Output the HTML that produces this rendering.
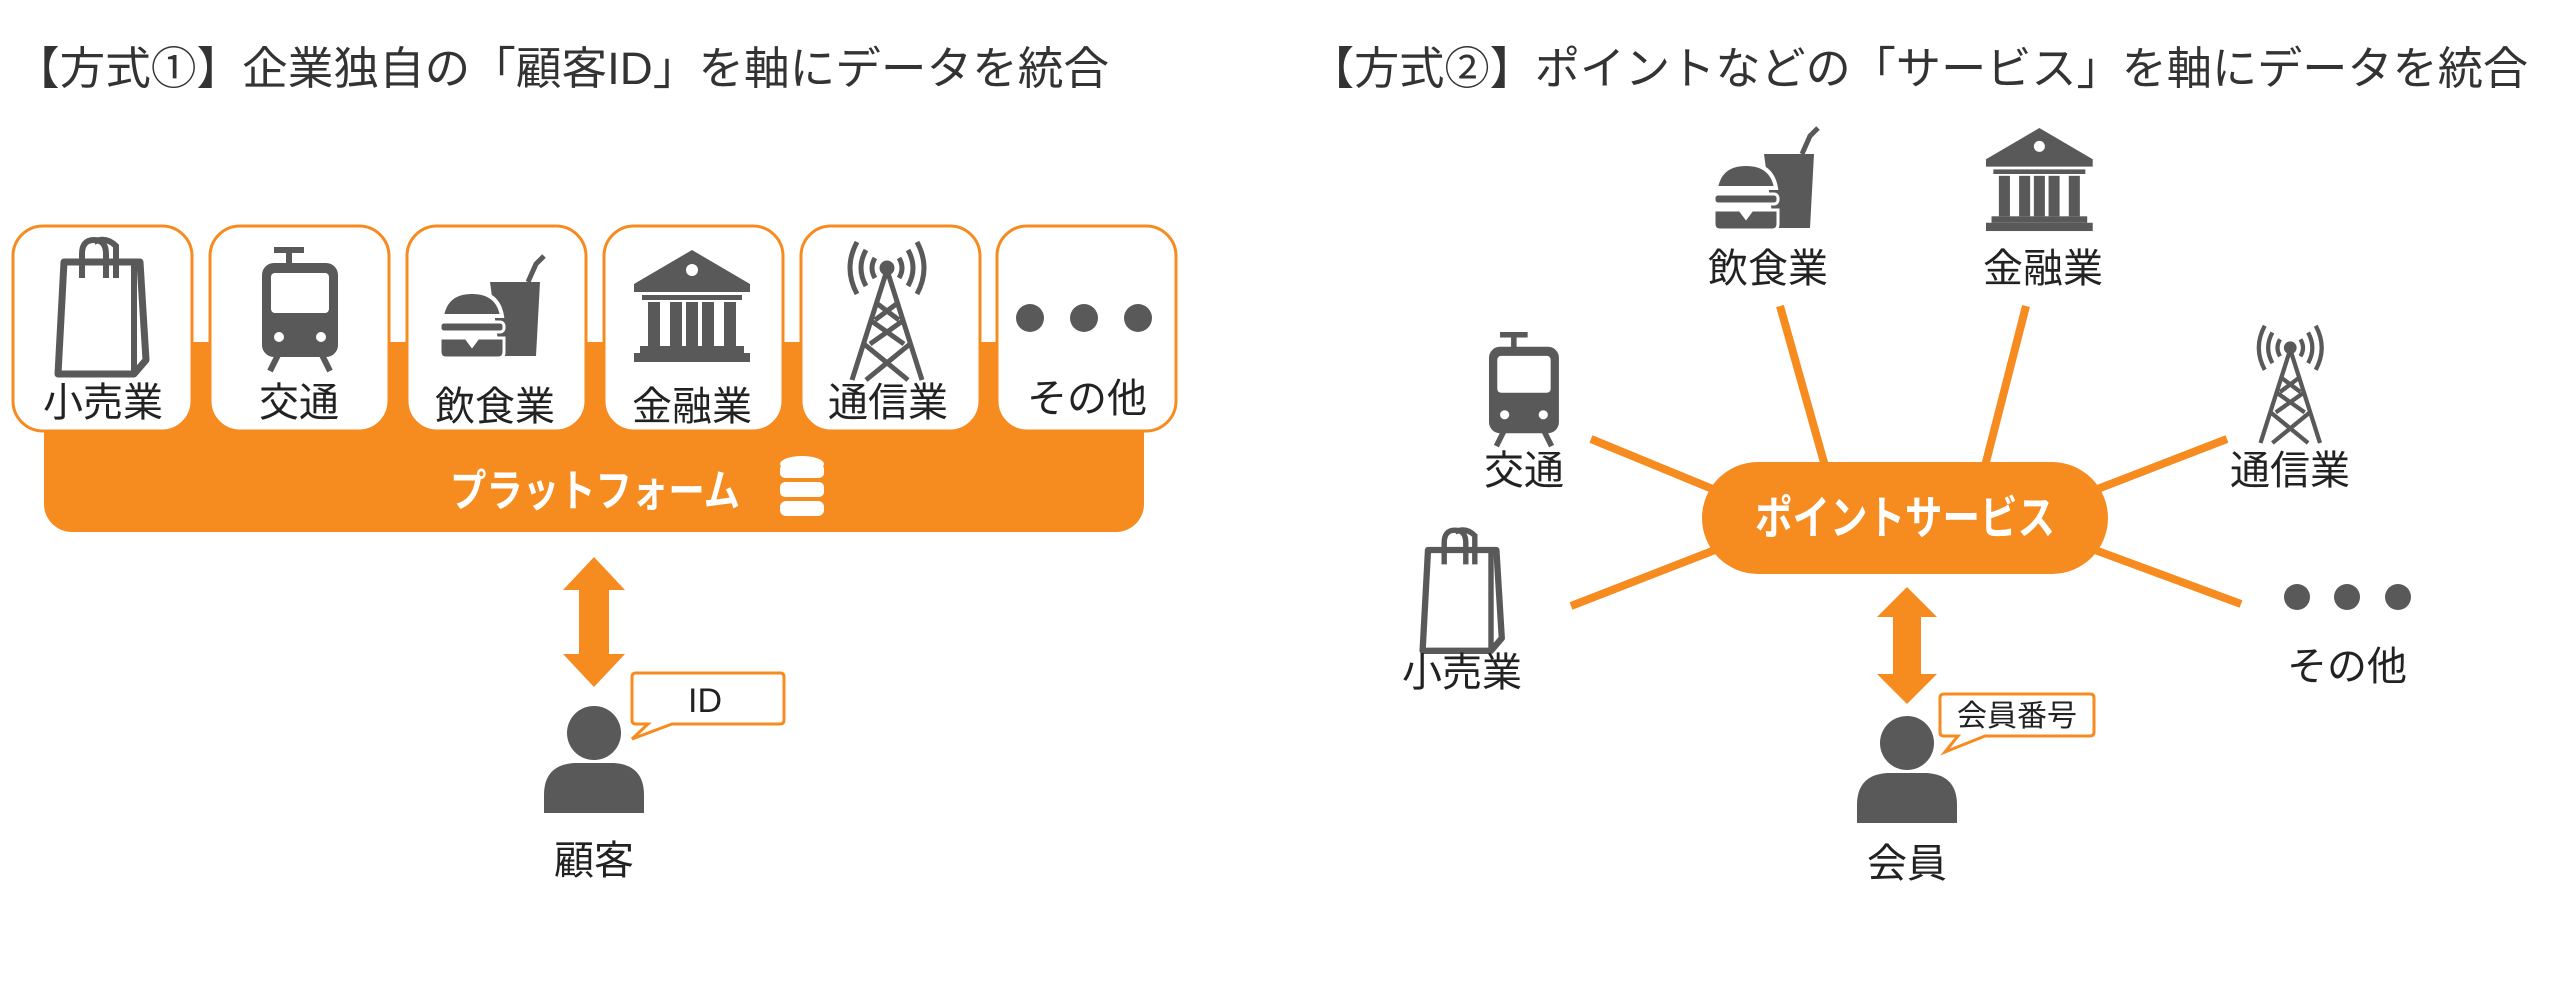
<!DOCTYPE html>
<html><head><meta charset="utf-8"><style>
html,body{margin:0;padding:0;background:#fff;}
svg{display:block;}
text{font-family:"Liberation Sans","Noto Sans CJK JP",sans-serif;}
</style></head><body>
<svg width="2560" height="993" viewBox="0 0 2560 993" xmlns="http://www.w3.org/2000/svg">
<defs>
<g id="bag">
 <path d="M10 20 L86 20 L92 118 L80 132 L4 132 Z" fill="none" stroke="#595959" stroke-width="7" stroke-linejoin="round"/>
 <path d="M80 20 L80 132" stroke="#595959" stroke-width="6"/>
 <path d="M28 36 L28 12 Q28 -2 40 -2 Q52 -2 52 12 L52 36" fill="none" stroke="#595959" stroke-width="6"/>
 <path d="M40 0 Q52 -6 62 4 L62 36" fill="none" stroke="#595959" stroke-width="6"/>
</g>
<g id="train">
 <rect x="12" y="0" width="30" height="6" fill="#595959"/>
 <rect x="24" y="4" width="6" height="16" fill="#595959"/>
 <rect x="0" y="16" width="76" height="94" rx="12" fill="#595959"/>
 <rect x="9" y="26" width="58" height="40" rx="4" fill="#fff"/>
 <circle cx="17" cy="90" r="5" fill="#fff"/><circle cx="59" cy="90" r="5" fill="#fff"/>
 <path d="M16 108 L8 124 M60 108 L68 124" stroke="#595959" stroke-width="6"/>
</g>
<g id="food">
 <path d="M50 30 L100 30 L96 104 L60 104 Z" fill="#595959"/>
 <path d="M88 30 L96 12 L104 4" stroke="#595959" stroke-width="5" fill="none"/>
 <path d="M2 64 Q6 40 32 40 Q58 40 62 64 Z" fill="#595959" stroke="#fff" stroke-width="4"/>
 <rect x="0" y="70" width="64" height="10" rx="4" fill="#595959" stroke="#fff" stroke-width="3"/>
 <path d="M0 86 L26 86 L32 94 L38 86 L64 86 L64 100 Q64 106 58 106 L6 106 Q0 106 0 100 Z" fill="#595959" stroke="#fff" stroke-width="3"/>
</g>
<g id="bank">
 <path d="M58 0 L116 34 L116 42 L0 42 L0 34 Z" fill="#595959"/>
 <circle cx="58" cy="20" r="6" fill="#fff"/>
 <rect x="8" y="45" width="100" height="5" fill="#595959"/>
 <rect x="14" y="52" width="12" height="44" fill="#595959"/><rect x="36" y="52" width="12" height="44" fill="#595959"/>
 <rect x="52" y="52" width="12" height="44" fill="#595959"/>
 <rect x="68" y="52" width="12" height="44" fill="#595959"/><rect x="90" y="52" width="12" height="44" fill="#595959"/>
 <rect x="6" y="96" width="104" height="7" fill="#595959"/>
 <rect x="0" y="103" width="116" height="9" fill="#595959"/>
</g>
<g id="tower" fill="none" stroke="#595959" stroke-width="5">
 <path d="M45 30 L10 140 M45 30 L80 140 M22 104 L66 140 M68 104 L24 140 M28 80 L62 104 M62 80 L28 104 M33 62 L57 80 M57 62 L33 80"/>
 <circle cx="45" cy="28" r="5" fill="#595959"/>
 <path d="M33 18 Q27 28 33 38 M57 18 Q63 28 57 38 M24 10 Q14 28 24 46 M66 10 Q76 28 66 46 M15 2 Q1 28 15 54 M75 2 Q89 28 75 54"/>
</g>
<g id="person">
 <circle cx="0" cy="0" r="27" fill="#595959"/>
 <path d="M-50 80 L-50 62 Q-50 32 -20 30 L20 30 Q50 32 50 62 L50 80 Z" fill="#595959"/>
</g>
</defs>

<!-- LEFT -->
<text x="14" y="84" font-size="45" fill="#333" textLength="1095" lengthAdjust="spacingAndGlyphs">【方式①】企業独自の「顧客ID」を軸にデータを統合</text>
<rect x="44" y="342" width="1100" height="190" rx="28" fill="#F68B1F"/>
<g fill="#fff" stroke="#F68B1F" stroke-width="3">
 <rect x="13" y="226" width="179" height="205" rx="30"/>
 <rect x="210" y="226" width="179" height="205" rx="30"/>
 <rect x="407" y="226" width="179" height="205" rx="30"/>
 <rect x="604" y="226" width="179" height="205" rx="30"/>
 <rect x="801" y="226" width="179" height="205" rx="30"/>
 <rect x="997" y="226" width="179" height="205" rx="30"/>
</g>
<use href="#bag" x="54" y="242"/>
<use href="#train" x="262" y="247"/>
<use href="#food" x="440" y="252"/>
<use href="#bank" x="634" y="250"/>
<use href="#tower" x="842" y="240"/>
<g fill="#595959"><circle cx="1030" cy="318" r="14"/><circle cx="1084" cy="318" r="14"/><circle cx="1138" cy="318" r="14"/></g>
<g font-size="40" fill="#222" text-anchor="middle">
 <text x="103" y="416">小売業</text><text x="299" y="416">交通</text><text x="495" y="420">飲食業</text>
 <text x="692" y="420">金融業</text><text x="888" y="416">通信業</text><text x="1087" y="412">その他</text>
</g>
<text x="450" y="506" font-size="44" font-weight="bold" fill="#fff" textLength="290" lengthAdjust="spacingAndGlyphs">プラットフォーム</text>
<g fill="#fff"><ellipse cx="802" cy="464" rx="22" ry="8"/><rect x="780" y="464" width="44" height="14" rx="5"/><rect x="780" y="482" width="44" height="15" rx="5"/><rect x="780" y="501" width="44" height="15" rx="6"/></g>
<path d="M594 557 L625 590 L609 590 L609 654 L625 654 L594 687 L563 654 L579 654 L579 590 L563 590 Z" fill="#F68B1F"/>
<use href="#person" x="594" y="733"/>
<path d="M636 673 L780 673 Q784 673 784 677 L784 720 Q784 724 780 724 L672 724 L632 739 L648 724 L636 724 Q632 724 632 720 L632 677 Q632 673 636 673 Z" fill="#fff" stroke="#F68B1F" stroke-width="3"/>
<text x="705" y="712" font-size="34" fill="#222" text-anchor="middle">ID</text>
<text x="594" y="874" font-size="40" fill="#222" text-anchor="middle">顧客</text>

<!-- RIGHT -->
<text x="1309" y="84" font-size="45" fill="#333" textLength="1219" lengthAdjust="spacingAndGlyphs">【方式②】ポイントなどの「サービス」を軸にデータを統合</text>
<g stroke="#F68B1F" stroke-width="8">
 <line x1="1780" y1="306" x2="1825" y2="466"/>
 <line x1="2026" y1="306" x2="1985" y2="466"/>
 <line x1="1591" y1="439" x2="1715" y2="490"/>
 <line x1="1571" y1="606" x2="1715" y2="550"/>
 <line x1="2227" y1="439" x2="2095" y2="490"/>
 <line x1="2241" y1="604" x2="2095" y2="550"/>
</g>
<rect x="1702" y="462" width="406" height="112" rx="56" fill="#F68B1F"/>
<text x="1755" y="534" font-size="46" font-weight="bold" fill="#fff" textLength="300" lengthAdjust="spacingAndGlyphs">ポイントサービス</text>
<use href="#food" x="1714" y="124"/>
<g transform="translate(1986,128) scale(0.92)"><use href="#bank"/></g>
<g transform="translate(1489,332) scale(0.92)"><use href="#train"/></g>
<g transform="translate(1419,532) scale(0.9)"><use href="#bag"/></g>
<g transform="translate(2252,324) scale(0.85)"><use href="#tower"/></g>
<g fill="#595959"><circle cx="2297" cy="597" r="13"/><circle cx="2347" cy="597" r="13"/><circle cx="2398" cy="597" r="13"/></g>
<g font-size="40" fill="#222" text-anchor="middle">
 <text x="1768" y="282">飲食業</text><text x="2043" y="282">金融業</text>
 <text x="1524" y="484">交通</text><text x="2290" y="484">通信業</text>
 <text x="1462" y="686">小売業</text><text x="2347" y="680">その他</text>
</g>
<path d="M1907 587 L1937 617 L1921 617 L1921 674 L1937 674 L1907 704 L1877 674 L1893 674 L1893 617 L1877 617 Z" fill="#F68B1F"/>
<use href="#person" x="1907" y="743"/>
<path d="M1944 694 L2090 694 Q2094 694 2094 698 L2094 732 Q2094 736 2090 736 L1985 736 L1945 752 L1958 736 L1944 736 Q1940 736 1940 732 L1940 698 Q1940 694 1944 694 Z" fill="#fff" stroke="#F68B1F" stroke-width="3"/>
<text x="2017" y="726" font-size="30" fill="#222" text-anchor="middle">会員番号</text>
<text x="1907" y="877" font-size="40" fill="#222" text-anchor="middle">会員</text>
</svg>
</body></html>
